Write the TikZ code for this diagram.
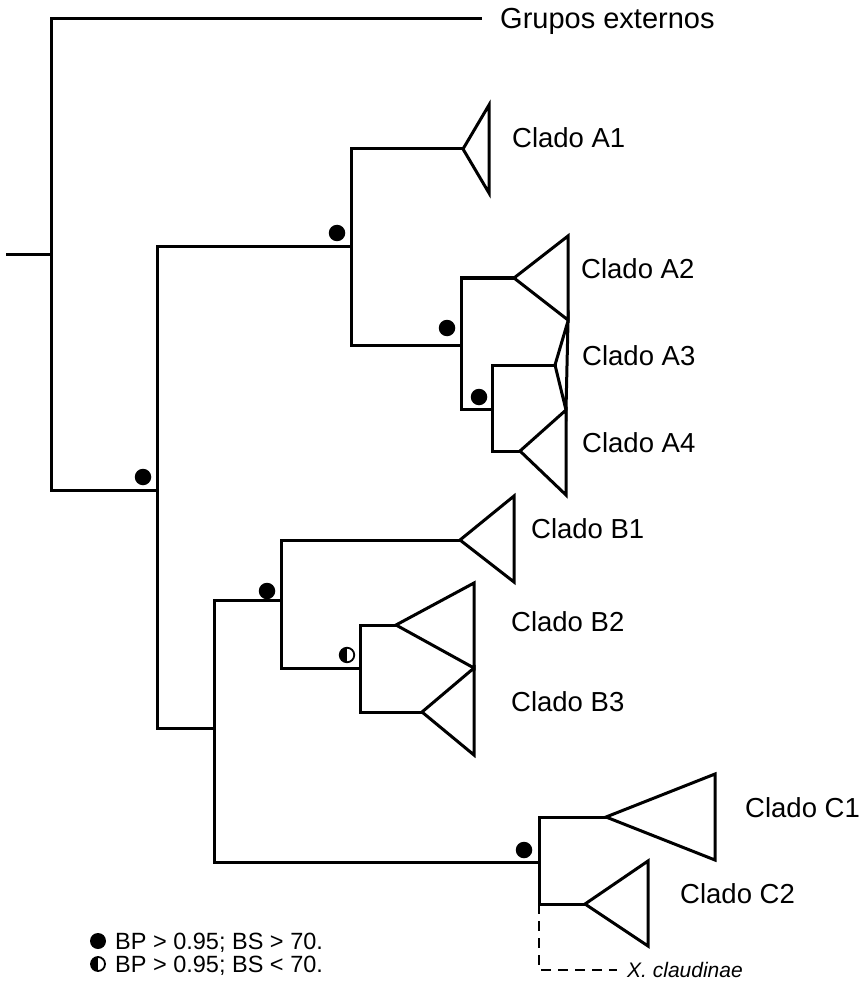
\documentclass[tikz,border=0pt]{standalone}
\usepackage{fontspec}
\setmainfont{Liberation Sans}
\usepackage{tikz}
\usetikzlibrary{positioning}
\usetikzlibrary{calc}

\tikzset{
  branch/.style={line width=3pt,line cap=rect,line join=miter},
  supfull/.style={circle,fill=black,inner sep=0pt,minimum size=16.5pt},
  suphalf/.style={circle,draw=black,line width=1.8pt,inner sep=0pt,minimum size=14.5pt,
    path picture={\fill[black] (path picture bounding box.north) rectangle (path picture bounding box.south west);}},
  clado/.style={anchor=base west,inner sep=0pt,font=\fontsize{27.5}{30}\selectfont},
  legtext/.style={anchor=base west,inner sep=0pt,font=\fontsize{23.5}{26}\selectfont},
}

\begin{document}
\begin{tikzpicture}[x=1pt,y=-1pt]
\useasboundingbox (0,0) rectangle (863,981);
% internal nodes of the tree
\coordinate (stem) at (7,255);
\coordinate (root) at (51,255);
\coordinate (out) at (480,19);
\coordinate (nAB) at (157,490);
\coordinate (nA) at (351,247);
\coordinate (nA2) at (461,345);
\coordinate (nA34) at (492,409);
\coordinate (nBC) at (214,728);
\coordinate (nB) at (281,600);
\coordinate (nB23) at (360,668);
\coordinate (nC) at (539,862);
% apex of each collapsed clade
\coordinate (tA1) at (463,149);
\coordinate (tA2) at (514,278);
\coordinate (tA3) at (555,365);
\coordinate (tA4) at (520,451);
\coordinate (tB1) at (460,540);
\coordinate (tB2) at (396,625);
\coordinate (tB3) at (422,712);
\coordinate (tC1) at (606,817);
\coordinate (tC2) at (585,904);
\coordinate (xcl) at (617,970);

% branches
\draw[branch] (stem) -- (root);
\draw[branch] (out) -| (root) |- (nAB);
\draw[branch] (nA) -| (nAB) |- (nBC);
\draw[branch] (tA1) -| (nA) |- (nA2);
\draw[branch] (tA2) -| (nA2) |- (nA34);
\draw[branch] (tA3) -| (nA34) |- (tA4);
\draw[branch] (nB) -| (nBC) |- (nC);
\draw[branch] (tB1) -| (nB) |- (nB23);
\draw[branch] (tB2) -| (nB23) |- (tB3);
\draw[branch] (tC1) -| (nC) |- (tC2);
\draw[line width=2.7pt,dash pattern=on 10pt off 7pt] (nC |- tC2) |- (xcl);

% clades
\draw[branch] (tA1) -- (489,105) -- (489,193) -- cycle;
\draw[branch] (tA2) -- (568,236) -- (568,320) -- cycle;
\draw[branch] (tA3) -- (568,321) -- (566,410) -- cycle;
\draw[branch] (tA4) -- (566,410) -- (566,495) -- cycle;
\draw[branch] (tB1) -- (514,496) -- (514,582) -- cycle;
\draw[branch] (tB2) -- (474,583) -- (474,668) -- cycle;
\draw[branch] (tB3) -- (474,668) -- (474,755) -- cycle;
\draw[branch] (tC1) -- (715,774) -- (715,860) -- cycle;
\draw[branch] (tC2) -- (648,861) -- (648,946) -- cycle;

% support values
\node[supfull] (s1) at (143,477) {};
\node[supfull] (s2) at (337,233) {};
\node[supfull] (s3) at (447,328) {};
\node[supfull] (s4) at (479,397) {};
\node[supfull] (s5) at (267,591) {};
\node[suphalf] (s6) at (347,655) {};
\node[supfull] (s7) at (524,850) {};

% labels
\node[anchor=base west,inner sep=0pt,font=\fontsize{29}{32}\selectfont] (lOut) at (500,29) {Grupos externos};
\node[clado] (lA1) at (512,148) {Clado A1};
\node[clado] (lA2) at (581,278) {Clado A2};
\node[clado] (lA3) at (582,365) {Clado A3};
\node[clado] (lA4) at (582,452) {Clado A4};
\node[clado] (lB1) at (531,538) {Clado B1};
\node[clado] (lB2) at (511,631) {Clado B2};
\node[clado] (lB3) at (511,711) {Clado B3};
\node[clado] (lC1) at (745,817) {Clado C1};
\node[clado] (lC2) at (680,903) {Clado C2};
\node[anchor=base west,inner sep=0pt,font=\fontsize{21}{24}\selectfont\itshape] (lX) at (627,977) {X. claudinae};

% legend
\node[supfull,minimum size=16pt] (k1) at (98,941) {};
\node[legtext] (lk1) at (115,949.5) {BP > 0.95; BS > 70.};
\node[suphalf,minimum size=14pt] (k2) at (98,964) {};
\node[legtext] (lk2) at (115,972.5) {BP > 0.95; BS < 70.};
\end{tikzpicture}
\end{document}
